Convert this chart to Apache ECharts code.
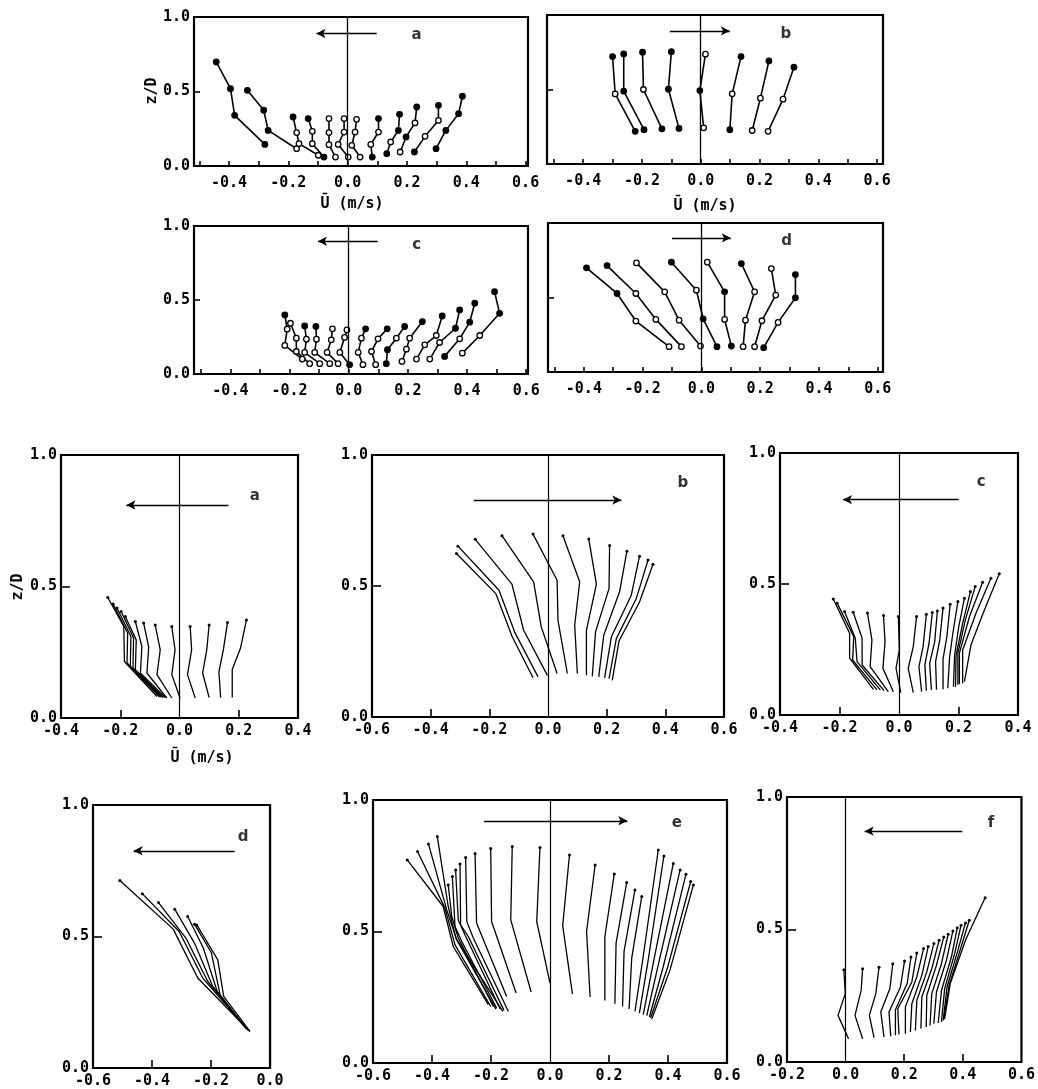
<!DOCTYPE html>
<html><head><meta charset="utf-8">
<script src="https://cdn.jsdelivr.net/npm/echarts@6/dist/echarts.min.js"></script>
<style>html,body{margin:0;padding:0;background:#fff}#c{width:1038px;height:1089px}</style>
</head><body><div id="c"></div><script>
// ---------- tick labels ----------
const topXLabels = [-0.4, -0.2, 0.0, 0.2, 0.4, 0.6];
const topXTicks = [-0.5, -0.4, -0.3, -0.2, -0.1, 0.0, 0.1, 0.2, 0.3, 0.4, 0.5, 0.6];
const yLabelValues = [0.0, 0.5, 1.0];
const yTickValues = [0.5];
const botAXLabels = [-0.4, -0.2, 0.0, 0.2, 0.4];
const botAXTicks = [-0.2, 0.2];
const botBXLabels = [-0.6, -0.4, -0.2, 0.0, 0.2, 0.4, 0.6];
const botBXTicks = [-0.4, -0.2, 0.2, 0.4];
const botCXLabels = [-0.4, -0.2, 0.0, 0.2, 0.4];
const botCXTicks = [-0.2, 0.2];
const botDXLabels = [-0.6, -0.4, -0.2, 0.0];
const botDXTicks = [-0.4, -0.2];
const botEXLabels = [-0.6, -0.4, -0.2, 0.0, 0.2, 0.4, 0.6];
const botEXTicks = [-0.4, -0.2, 0.2, 0.4];
const botFXLabels = [-0.2, 0.0, 0.2, 0.4, 0.6];
const botFXTicks = [0.2, 0.4];
const axisName = 'Ū (m/s)';
const yName = 'z/D';

// ---------- top panels: velocity profiles [U, z/D] ----------
const topA = [
 [[-0.443,0.698],[-0.395,0.519],[-0.381,0.340],[-0.279,0.145]],
 [[-0.338,0.508],[-0.283,0.374],[-0.268,0.239],[-0.172,0.116]],
 [[-0.184,0.329],[-0.172,0.224],[-0.164,0.150],[-0.099,0.072]],
 [[-0.133,0.318],[-0.119,0.233],[-0.119,0.150],[-0.080,0.060]],
 [[-0.063,0.318],[-0.063,0.224],[-0.063,0.143],[-0.041,0.060]],
 [[-0.012,0.318],[-0.012,0.228],[-0.032,0.145],[0.002,0.060]],
 [[0.030,0.313],[0.025,0.228],[0.014,0.139],[0.042,0.060]],
 [[0.104,0.318],[0.104,0.228],[0.078,0.145],[0.083,0.060]],
 [[0.175,0.347],[0.171,0.239],[0.145,0.161],[0.132,0.083]],
 [[0.233,0.396],[0.227,0.289],[0.197,0.195],[0.177,0.094]],
 [[0.306,0.407],[0.306,0.306],[0.261,0.199],[0.225,0.094]],
 [[0.387,0.468],[0.374,0.351],[0.331,0.239],[0.298,0.116]]
];
const topAFill = ['1111','1110','1000','1001','0000','0000','0000','1001','1101','1010','1001','1111'];

const topB = [
 [[-0.300,0.721],[-0.291,0.470],[-0.223,0.219]],
 [[-0.262,0.739],[-0.262,0.489],[-0.193,0.230]],
 [[-0.198,0.750],[-0.195,0.500],[-0.132,0.236]],
 [[-0.100,0.754],[-0.110,0.502],[-0.074,0.239]],
 [[0.016,0.737],[-0.003,0.493],[0.010,0.243]],
 [[0.137,0.721],[0.107,0.471],[0.099,0.230]],
 [[0.232,0.692],[0.203,0.442],[0.175,0.225]],
 [[0.317,0.650],[0.280,0.435],[0.229,0.219]]
];
const topBFill = ['101','111','101','111','010','101','100','100'];

const topC = [
 [[-0.216,0.399],[-0.208,0.303],[-0.216,0.193],[-0.157,0.101]],
 [[-0.197,0.343],[-0.177,0.242],[-0.177,0.152],[-0.132,0.070]],
 [[-0.149,0.325],[-0.143,0.235],[-0.149,0.146],[-0.098,0.070]],
 [[-0.111,0.321],[-0.109,0.235],[-0.115,0.146],[-0.064,0.070]],
 [[-0.055,0.305],[-0.059,0.231],[-0.073,0.146],[-0.036,0.070]],
 [[-0.006,0.298],[-0.014,0.247],[-0.030,0.146],[0.003,0.063]],
 [[0.057,0.305],[0.043,0.242],[0.032,0.146],[0.048,0.063]],
 [[0.130,0.305],[0.099,0.238],[0.077,0.152],[0.091,0.063]],
 [[0.189,0.321],[0.161,0.242],[0.131,0.164],[0.127,0.070]],
 [[0.249,0.354],[0.206,0.242],[0.195,0.168],[0.180,0.085]],
 [[0.316,0.392],[0.296,0.260],[0.257,0.197],[0.229,0.101]],
 [[0.375,0.433],[0.361,0.309],[0.307,0.213],[0.274,0.101]],
 [[0.426,0.478],[0.409,0.350],[0.375,0.238],[0.324,0.119]],
 [[0.493,0.556],[0.510,0.410],[0.443,0.260],[0.384,0.141]]
];
const topCFill = ['1000','0000','1000','1000','0000','0001','1000','1000','1011','1000','1000','1100','1101','1100'];

const topD = [
 [[-0.391,0.699],[-0.287,0.527],[-0.223,0.342],[-0.110,0.170]],
 [[-0.321,0.714],[-0.223,0.527],[-0.155,0.353],[-0.068,0.170]],
 [[-0.221,0.732],[-0.125,0.538],[-0.076,0.348],[-0.003,0.174]],
 [[-0.102,0.737],[-0.017,0.549],[0.006,0.357],[0.053,0.170]],
 [[0.020,0.737],[0.079,0.538],[0.079,0.353],[0.102,0.174]],
 [[0.136,0.728],[0.181,0.538],[0.150,0.348],[0.142,0.170]],
 [[0.238,0.694],[0.253,0.516],[0.206,0.344],[0.181,0.170]],
 [[0.320,0.654],[0.320,0.498],[0.261,0.333],[0.212,0.163]]
];
const topDFill = ['1100','1000','0000','1011','0101','1000','0000','1101'];

// ---------- bottom panels ----------
const botA = [
 [[-0.242,0.458],[-0.188,0.348],[-0.186,0.215],[-0.076,0.082]],
 [[-0.224,0.433],[-0.175,0.323],[-0.177,0.209],[-0.067,0.080]],
 [[-0.211,0.418],[-0.164,0.310],[-0.166,0.196],[-0.063,0.080]],
 [[-0.197,0.405],[-0.155,0.304],[-0.157,0.190],[-0.056,0.078]],
 [[-0.183,0.386],[-0.146,0.297],[-0.149,0.184],[-0.054,0.078]],
 [[-0.149,0.367],[-0.127,0.272],[-0.132,0.171],[-0.048,0.078]],
 [[-0.121,0.361],[-0.104,0.270],[-0.110,0.171],[-0.043,0.076]],
 [[-0.082,0.354],[-0.065,0.259],[-0.076,0.165],[-0.026,0.076]],
 [[-0.026,0.348],[-0.015,0.259],[-0.026,0.165],[0.002,0.076]],
 [[0.036,0.348],[0.041,0.259],[0.027,0.165],[0.053,0.076]],
 [[0.100,0.354],[0.092,0.259],[0.078,0.171],[0.100,0.078]],
 [[0.162,0.363],[0.148,0.259],[0.133,0.175],[0.139,0.078]],
 [[0.226,0.373],[0.206,0.266],[0.178,0.184],[0.178,0.078]]
];
const botB = [
 [[-0.312,0.624],[-0.178,0.471],[-0.122,0.306],[-0.051,0.150]],
 [[-0.307,0.652],[-0.167,0.484],[-0.114,0.325],[-0.034,0.153]],
 [[-0.248,0.678],[-0.123,0.507],[-0.083,0.331],[-0.002,0.159]],
 [[-0.157,0.692],[-0.049,0.516],[-0.023,0.344],[0.031,0.166]],
 [[-0.051,0.698],[0.031,0.522],[0.034,0.369],[0.066,0.166]],
 [[0.051,0.692],[0.108,0.516],[0.091,0.350],[0.100,0.166]],
 [[0.139,0.679],[0.165,0.507],[0.131,0.331],[0.131,0.159]],
 [[0.210,0.655],[0.208,0.490],[0.162,0.325],[0.151,0.155]],
 [[0.269,0.633],[0.244,0.478],[0.190,0.312],[0.173,0.153]],
 [[0.312,0.614],[0.284,0.465],[0.216,0.306],[0.193,0.149]],
 [[0.341,0.599],[0.301,0.452],[0.233,0.299],[0.208,0.146]],
 [[0.358,0.583],[0.312,0.439],[0.242,0.290],[0.219,0.140]]
];
const botC = [
 [[-0.221,0.443],[-0.166,0.312],[-0.166,0.217],[-0.086,0.098]],
 [[-0.208,0.427],[-0.152,0.299],[-0.156,0.210],[-0.074,0.096]],
 [[-0.183,0.395],[-0.147,0.293],[-0.141,0.204],[-0.063,0.096]],
 [[-0.154,0.392],[-0.124,0.293],[-0.124,0.191],[-0.050,0.093]],
 [[-0.106,0.389],[-0.091,0.287],[-0.097,0.185],[-0.036,0.089]],
 [[-0.052,0.380],[-0.047,0.280],[-0.054,0.178],[-0.019,0.089]],
 [[-0.002,0.376],[0.001,0.248],[-0.010,0.178],[0.006,0.085]],
 [[0.059,0.376],[0.048,0.261],[0.031,0.178],[0.048,0.085]],
 [[0.092,0.385],[0.081,0.261],[0.067,0.185],[0.076,0.089]],
 [[0.112,0.391],[0.101,0.274],[0.087,0.191],[0.092,0.093]],
 [[0.129,0.397],[0.120,0.280],[0.103,0.197],[0.109,0.096]],
 [[0.148,0.408],[0.137,0.287],[0.123,0.204],[0.126,0.096]],
 [[0.172,0.423],[0.161,0.299],[0.148,0.213],[0.148,0.098]],
 [[0.198,0.433],[0.181,0.312],[0.170,0.220],[0.164,0.102]],
 [[0.220,0.446],[0.201,0.338],[0.187,0.229],[0.183,0.108]],
 [[0.240,0.471],[0.214,0.350],[0.192,0.229],[0.190,0.108]],
 [[0.256,0.490],[0.223,0.363],[0.198,0.236],[0.198,0.115]],
 [[0.281,0.507],[0.237,0.376],[0.203,0.236],[0.203,0.118]],
 [[0.309,0.522],[0.259,0.389],[0.214,0.248],[0.214,0.121]],
 [[0.337,0.539],[0.287,0.401],[0.242,0.268],[0.220,0.127]]
];
const botD = [
 [[-0.509,0.713],[-0.328,0.528],[-0.245,0.342],[-0.068,0.139]],
 [[-0.433,0.663],[-0.308,0.519],[-0.228,0.342],[-0.074,0.143]],
 [[-0.378,0.629],[-0.285,0.494],[-0.211,0.329],[-0.080,0.148]],
 [[-0.323,0.604],[-0.256,0.475],[-0.194,0.310],[-0.085,0.156]],
 [[-0.279,0.576],[-0.226,0.456],[-0.179,0.291],[-0.091,0.165]],
 [[-0.256,0.547],[-0.199,0.439],[-0.169,0.278],[-0.097,0.171]],
 [[-0.248,0.544],[-0.177,0.411],[-0.157,0.272],[-0.068,0.139]]
];
const botE = [
 [[-0.484,0.772],[-0.362,0.595],[-0.328,0.443],[-0.209,0.222]],
 [[-0.449,0.804],[-0.356,0.589],[-0.322,0.449],[-0.201,0.215]],
 [[-0.412,0.833],[-0.350,0.582],[-0.316,0.468],[-0.183,0.205]],
 [[-0.382,0.861],[-0.345,0.595],[-0.319,0.475],[-0.160,0.196]],
 [[-0.345,0.677],[-0.333,0.557],[-0.311,0.475],[-0.192,0.215]],
 [[-0.331,0.709],[-0.322,0.519],[-0.299,0.462],[-0.181,0.209]],
 [[-0.320,0.734],[-0.311,0.544],[-0.288,0.487],[-0.169,0.205]],
 [[-0.305,0.757],[-0.303,0.525],[-0.277,0.481],[-0.156,0.200]],
 [[-0.286,0.781],[-0.282,0.538],[-0.260,0.475],[-0.141,0.196]],
 [[-0.254,0.797],[-0.249,0.532],[-0.147,0.253]],
 [[-0.201,0.816],[-0.198,0.538],[-0.115,0.266]],
 [[-0.128,0.823],[-0.133,0.544],[-0.064,0.270]],
 [[-0.034,0.819],[-0.045,0.538],[0.000,0.304]],
 [[0.066,0.791],[0.043,0.522],[0.076,0.263]],
 [[0.153,0.753],[0.124,0.500],[0.136,0.251]],
 [[0.218,0.719],[0.186,0.481],[0.186,0.238]],
 [[0.260,0.686],[0.224,0.456],[0.220,0.225]],
 [[0.288,0.658],[0.251,0.424],[0.246,0.215]],
 [[0.311,0.633],[0.277,0.399],[0.268,0.205]],
 [[0.367,0.810],[0.316,0.405],[0.288,0.196]],
 [[0.386,0.787],[0.333,0.392],[0.303,0.190]],
 [[0.418,0.759],[0.350,0.380],[0.316,0.184]],
 [[0.441,0.734],[0.367,0.373],[0.328,0.180]],
 [[0.461,0.718],[0.384,0.367],[0.337,0.175]],
 [[0.477,0.690],[0.398,0.361],[0.341,0.171]],
 [[0.486,0.677],[0.407,0.354],[0.345,0.167]]
];
const botF = [
 [[-0.006,0.348],[-0.001,0.258],[-0.026,0.176],[0.010,0.088]],
 [[0.058,0.352],[0.053,0.270],[0.032,0.176],[0.058,0.088]],
 [[0.114,0.358],[0.103,0.258],[0.081,0.176],[0.097,0.092]],
 [[0.161,0.371],[0.151,0.277],[0.120,0.189],[0.131,0.094]],
 [[0.201,0.381],[0.187,0.283],[0.148,0.189],[0.154,0.097]],
 [[0.223,0.396],[0.210,0.296],[0.170,0.197],[0.170,0.101]],
 [[0.243,0.411],[0.226,0.302],[0.178,0.201],[0.182,0.104]],
 [[0.266,0.428],[0.243,0.321],[0.204,0.208],[0.204,0.107]],
 [[0.282,0.436],[0.260,0.327],[0.226,0.220],[0.221,0.113]],
 [[0.301,0.447],[0.277,0.340],[0.243,0.233],[0.238,0.119]],
 [[0.319,0.459],[0.294,0.352],[0.260,0.245],[0.257,0.126]],
 [[0.335,0.472],[0.310,0.365],[0.277,0.252],[0.275,0.132]],
 [[0.350,0.482],[0.327,0.371],[0.294,0.258],[0.288,0.138]],
 [[0.366,0.494],[0.344,0.384],[0.310,0.264],[0.301,0.145]],
 [[0.381,0.507],[0.361,0.396],[0.327,0.270],[0.316,0.147]],
 [[0.394,0.516],[0.372,0.409],[0.338,0.277],[0.327,0.151]],
 [[0.409,0.525],[0.383,0.421],[0.346,0.283],[0.333,0.157]],
 [[0.422,0.535],[0.394,0.434],[0.353,0.289],[0.335,0.160]],
 [[0.476,0.620],[0.411,0.465],[0.357,0.296],[0.338,0.164]]
];

// ---------- arrows [from U, to U, z/D] and panel letters [U, z/D] ----------
const arrowTopA = [0.098, -0.105, 0.889];
const arrowTopB = [-0.105, 0.099, 0.893];
const arrowTopC = [0.098, -0.104, 0.897];
const arrowTopD = [-0.100, 0.100, 0.900];
const arrowBotA = [0.165, -0.179, 0.810];
const arrowBotB = [-0.253, 0.250, 0.828];
const arrowBotC = [0.200, -0.188, 0.822];
const arrowBotD = [-0.120, -0.462, 0.826];
const arrowBotE = [-0.224, 0.262, 0.921];
const arrowBotF = [0.398, 0.065, 0.871];
const letters = ['a','b','c','d','a','b','c','d','e','f'];
const letterPos = [[0.232,0.876],[0.29,0.87],[0.23,0.87],[0.29,0.88],[0.254,0.845],[0.46,0.892],[0.276,0.89],[-0.091,0.877],[0.43,0.914],[0.496,0.902]];

// ---------- layout ----------
const panels = [
 {data:topA, fill:topAFill, arrow:arrowTopA, grid:[194,17,334,149], x:[-0.518,0.608], xl:topXLabels, xt:topXTicks, yl:true, top:true},
 {data:topB, fill:topBFill, arrow:arrowTopB, grid:[547,15,336,149], x:[-0.523,0.62], xl:topXLabels, xt:topXTicks, yl:false, top:true},
 {data:topC, fill:topCFill, arrow:arrowTopC, grid:[194,226,334,148], x:[-0.523,0.606], xl:topXLabels, xt:topXTicks, yl:true, top:true},
 {data:topD, fill:topDFill, arrow:arrowTopD, grid:[548,223,335,149], x:[-0.522,0.618], xl:topXLabels, xt:topXTicks, yl:false, top:true},
 {data:botA, arrow:arrowBotA, grid:[61,455,237,263], x:[-0.4,0.4], xl:botAXLabels, xt:botAXTicks, yl:true},
 {data:botB, arrow:arrowBotB, grid:[372,455,352,262], x:[-0.6,0.6], xl:botBXLabels, xt:botBXTicks, yl:true},
 {data:botC, arrow:arrowBotC, grid:[780,453,238,262], x:[-0.4,0.4], xl:botCXLabels, xt:botCXTicks, yl:true},
 {data:botD, arrow:arrowBotD, grid:[93,805,177,263], x:[-0.6,0.0], xl:botDXLabels, xt:botDXTicks, yl:true},
 {data:botE, arrow:arrowBotE, grid:[373,800,354,263], x:[-0.6,0.6], xl:botEXLabels, xt:botEXTicks, yl:true},
 {data:botF, arrow:arrowBotF, grid:[787,797,236,265], x:[-0.2,0.6], xl:botFXLabels, xt:botFXTicks, yl:true}
];

const MONO = '"DejaVu Sans Mono", monospace';
const labelFont = {color:'#000', fontFamily:MONO, fontWeight:'bold', fontSize:15};
const grids = [], xAxes = [], yAxes = [], series = [];

panels.forEach((p, i) => {
  grids.push({left:p.grid[0], top:p.grid[1], width:p.grid[2], height:p.grid[3], show:true,
    borderColor:'#000', borderWidth:2.2, backgroundColor:'rgba(0,0,0,0)'});
  xAxes.push({gridIndex:i, type:'value', min:p.x[0], max:p.x[1], position:'bottom',
    axisLine:{show:false, onZero:false}, splitLine:{show:false},
    axisTick:{show:true, inside:true, length:p.top?5:8, customValues:p.xt, lineStyle:{color:'#000', width:1.6}},
    axisLabel:Object.assign({show:true, customValues:p.xl, margin:p.top?10:6, formatter:v=>v.toFixed(1),
      showMinLabel:true, showMaxLabel:true}, labelFont)});
  yAxes.push({gridIndex:i, type:'value', min:0, max:1, position:'left',
    axisLine:{show:false, onZero:false}, splitLine:{show:false},
    axisTick:{show:true, inside:true, length:p.top?6:9, customValues:yTickValues, lineStyle:{color:'#000', width:1.6}},
    axisLabel:Object.assign({show:p.yl, customValues:yLabelValues, margin:4, formatter:v=>v.toFixed(1),
      showMinLabel:true, showMaxLabel:true}, labelFont)});
  // profiles
  p.data.forEach((prof, j) => {
    if (p.top) {
      const f = p.fill[j];
      series.push({type:'line', xAxisIndex:i, yAxisIndex:i, silent:true, animation:false, z:3,
        symbol:'circle', symbolSize:5.5, showSymbol:true,
        lineStyle:{color:'#000', width:1.6},
        data: prof.map((pt, k) => ({value:pt, itemStyle:{color: f[k]==='1' ? '#000' : '#fff', borderColor:'#000', borderWidth:1.3}}))});
    } else {
      series.push({type:'line', xAxisIndex:i, yAxisIndex:i, silent:true, animation:false, z:3,
        symbol:'circle', showSymbol:true,
        symbolSize:(v, prm) => prm.dataIndex === 0 ? 3 : 0,
        itemStyle:{color:'#000'},
        lineStyle:{color:'#000', width:1.3},
        data: prof});
    }
  });
  // helper: letter, zero line, arrow
  const a = p.arrow;
  series.push({type:'scatter', xAxisIndex:i, yAxisIndex:i, silent:true, animation:false, z:4,
    symbolSize:1, itemStyle:{color:'rgba(0,0,0,0)'},
    label:{show:true, position:'inside', formatter:letters[i], color:'#000',
      fontFamily:'"DejaVu Sans", sans-serif', fontWeight:'bold', fontSize:15},
    data:[letterPos[i]],
    markLine:{silent:true, animation:false, symbol:['none','none'], label:{show:false},
      lineStyle:{color:'#000', width:1.3, type:'solid'},
      emphasis:{disabled:true},
      data:[
        {xAxis:0, lineStyle:{width:p.top?1.3:1.2}},
        [{coord:[a[0], a[2]], symbol:'none'}, {coord:[a[1], a[2]], symbol:'arrow', symbolSize:[7,9]}]
      ]}
  });
});

const chart = echarts.init(document.getElementById('c'), null, {renderer:'canvas'});
const txt = (x, y, text, rot) => ({type:'text', x:x, y:y, rotation:rot||0, silent:true,
  style:{text:text, fill:'#000', font:'bold 15px ' + MONO, textAlign:'center', align:'center',
         textVerticalAlign:'middle', verticalAlign:'middle'}});
chart.setOption({
  backgroundColor:'#fff',
  animation:false,
  grid:grids, xAxis:xAxes, yAxis:yAxes, series:series,
  graphic:[
    txt(352, 204, axisName),
    txt(705, 206, axisName),
    txt(202, 758, axisName),
    txt(152, 91, yName, Math.PI/2),
    txt(18, 587, yName, Math.PI/2)
  ]
});
</script></body></html>
